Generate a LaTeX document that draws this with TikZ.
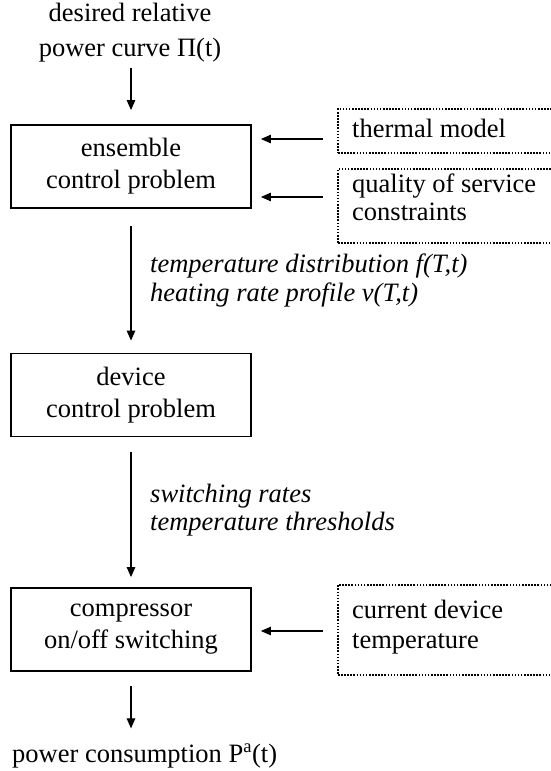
\documentclass[tikz,border=0pt]{standalone}
\usepackage{fontspec}
\setmainfont{Liberation Serif}
\usetikzlibrary{arrows.meta}
\begin{document}
\begin{tikzpicture}[x=1pt,y=-1pt,
  txt/.style={font=\fontsize{26.5}{35}\selectfont, inner sep=0pt},
  basetxt/.style={font=\fontsize{26.5}{32}\selectfont, inner sep=0pt, anchor=base west},
  itl/.style={font=\fontsize{26.5}{32}\selectfont\itshape, inner sep=0pt, anchor=base west},
  solidbox/.style={draw, line width=1.8pt, minimum width=240pt, minimum height=83pt,
    align=center, inner sep=0pt, font=\fontsize{26.5}{32}\selectfont},
  dotbox/.style={draw, line width=1.8pt, dash pattern=on 1.6pt off 1.5pt,
    minimum width=240pt, anchor=north west, inner sep=0pt},
  arr/.style={line width=1.1pt, -{Triangle[length=10pt,width=8.5pt]}}
]
\useasboundingbox (0,0) rectangle (551,771);
\clip (0,0) rectangle (551,771);

% top input
\node[txt, align=center] (goal) at (130,32.4) {desired relative\\power curve Π(t)};

% main boxes
\node[solidbox] (ens) at (131,166.5) {ensemble\\control problem};
\node[solidbox] (dev) at (131,395) {device\\control problem};
\node[solidbox] (comp) at (131,629.5) {compressor\\on/off switching};

% dotted input boxes
\node[dotbox, minimum height=44pt] (thermal) at (337,108) {};
\node[dotbox, minimum height=74pt] (qos) at (337,168) {};
\node[dotbox, minimum height=90pt] (cur) at (337,584) {};

\node[basetxt] (thermaltxt) at (352,137) {thermal model};
\node[basetxt] (qostxt1) at (352,192) {quality of service};
\node[basetxt] (qostxt2) at (352,220) {constraints};
\node[basetxt] (curtxt1) at (352,618) {current device};
\node[basetxt] (curtxt2) at (352,648) {temperature};

% italic labels
\node[itl] (lab1) at (150,272) {temperature distribution f(T,t)};
\node[itl] (lab2) at (150,301) {heating rate profile v(T,t)};
\node[itl] (lab3) at (150,502) {switching rates};
\node[itl] (lab4) at (150,530) {temperature thresholds};

% output
\node[basetxt] (power) at (12,762) {power consumption P\textsuperscript{a}(t)};

% vertical arrows
\draw[arr, shorten <=6pt, shorten >=14pt] (ens.north |- goal.south) -- (ens.north);
\draw[arr, shorten <=17pt, shorten >=12pt] (ens.south) -- (dev.north);
\draw[arr, shorten <=15pt, shorten >=10pt] (dev.south) -- (comp.north);
\draw[arr, shorten <=14pt, shorten >=15pt] (comp.south) -- (comp.south |- power.north);

% horizontal arrows
\draw[arr, shorten <=14pt, shorten >=9pt] (thermal.west |- 0,139) -- (ens.east |- 0,139);
\draw[arr, shorten <=14pt, shorten >=9pt] (qos.west |- 0,197) -- (ens.east |- 0,197);
\draw[arr, shorten <=14pt, shorten >=9pt] (cur.west |- 0,631) -- (comp.east |- 0,631);
\end{tikzpicture}
\end{document}
